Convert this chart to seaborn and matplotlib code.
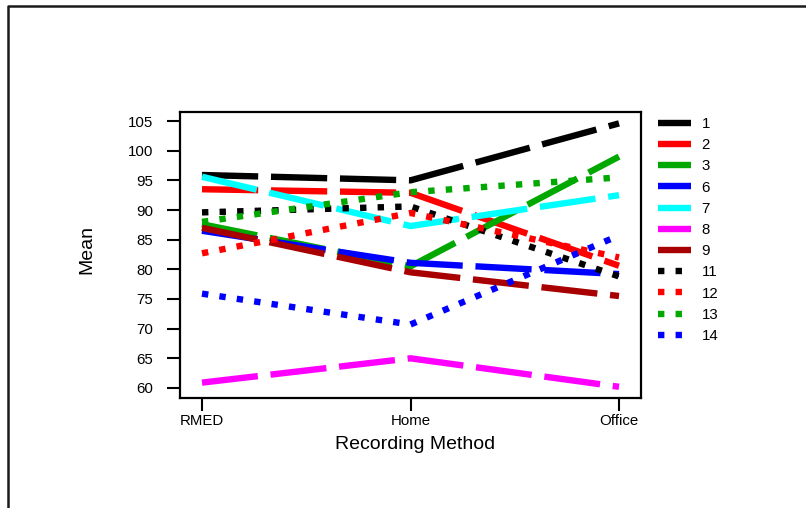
import numpy as np
import pandas as pd
import seaborn as sns
import matplotlib
matplotlib.use("Agg")
import matplotlib.pyplot as plt
from matplotlib.lines import Line2D

methods = ["RMED", "Home", "Office"]
subjects = ["1", "2", "3", "6", "7", "8", "9", "11", "12", "13", "14"]
s1 = [95.9, 95.0, 104.6]
s2 = [93.5, 92.9, 80.6]
s3 = [87.6, 80.5, 99.0]
s6 = [86.5, 81.1, 79.2]
s7 = [95.6, 87.3, 92.5]
s8 = [60.9, 65.0, 60.2]
s9 = [87.0, 79.5, 75.5]
s11 = [89.6, 90.6, 78.8]
s12 = [82.7, 89.5, 82.0]
s13 = [88.0, 93.0, 95.5]
s14 = [75.9, 70.7, 85.7]
series = [s1, s2, s3, s6, s7, s8, s9, s11, s12, s13, s14]

colors = {"1": "#000000", "2": "#ff0000", "3": "#00a800", "6": "#0000ff",
          "7": "#00ffff", "8": "#ff00ff", "9": "#a80000", "11": "#000000",
          "12": "#ff0000", "13": "#00a800", "14": "#0000ff"}
dash_long = (8.8, 2.0)
dot = (1.0, 1.75)
dashes = {s: (dash_long if int(s) < 10 else dot) for s in subjects}

rows = []
for s, vals in zip(subjects, series):
    for i, (m, v) in enumerate(zip(methods, vals)):
        rows.append({"subject": s, "pos": i, "method": m, "mean": v})
df = pd.DataFrame(rows)

sns.set_style("white")
plt.rcParams["font.family"] = ["Liberation Sans", "DejaVu Sans"]
plt.rcParams["lines.dash_capstyle"] = "butt"
plt.rcParams["text.color"] = "black"
plt.rcParams["axes.labelcolor"] = "black"
plt.rcParams["xtick.color"] = "black"
plt.rcParams["ytick.color"] = "black"

fig = plt.figure(figsize=(8.06, 5.08), dpi=100)
ax = fig.add_axes([180/806, 1-398/508, (641-180)/806, (398-112)/508])

sns.lineplot(data=df, x="pos", y="mean", hue="subject", style="subject",
             hue_order=subjects, style_order=subjects, palette=colors,
             dashes=dashes, linewidth=4.6, errorbar=None, sort=False,
             legend=False, ax=ax)

ax.set_xlim(-0.1055, 2.1055)
ax.set_ylim(58.31, 106.52)
ax.set_xticks(range(len(methods)))
ax.set_xticklabels(methods)
ax.set_yticks(np.arange(60, 106, 5))
ax.tick_params(axis="both", direction="out", length=9.5, width=1.5,
               labelsize=10.8, color="black", labelcolor="black",
               bottom=True, left=True, top=False, right=False)
ax.tick_params(axis="y", pad=10)
ax.tick_params(axis="x", pad=2)
for sp in ax.spines.values():
    sp.set_linewidth(1.6)
    sp.set_color("black")
    sp.set_visible(True)

ax.set_xlabel("Recording Method", fontsize=14, color="black")
ax.set_ylabel("Mean", fontsize=14, color="black")
ax.xaxis.set_label_coords((415-180)/461, (398-436)/286)
ax.yaxis.set_label_coords((95-180)/461, 0.52)

handles = ax.get_lines()[:len(subjects)]
leg = ax.legend(handles, subjects, loc="upper left",
                bbox_to_anchor=(658/806, 1-117/508), bbox_transform=fig.transFigure,
                frameon=False, fontsize=10.8, handlelength=2.2,
                handletextpad=0.7, labelspacing=0.48, borderaxespad=0,
                borderpad=0)
for t in leg.get_texts():
    t.set_color("black")

frame = Line2D([8/806, 8/806, 1.0], [0.0, 1-6/508, 1-6/508],
               transform=fig.transFigure, color="#1a1a1a", lw=1.8)
fig.add_artist(frame)

fig.savefig("out.png", dpi=100)
